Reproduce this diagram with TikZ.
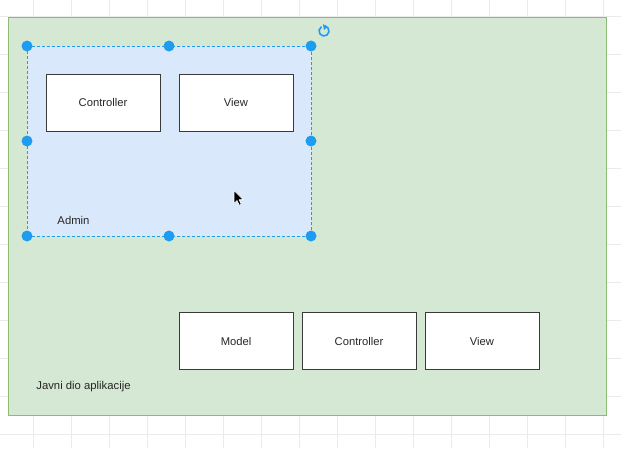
\documentclass[tikz,border=0pt]{standalone}
\usepackage{fontspec}
\setmainfont{Liberation Sans}
\usetikzlibrary{calc}
\definecolor{gridc}{HTML}{EBEBEB}
\definecolor{greenfill}{HTML}{D5E8D4}
\definecolor{greenline}{HTML}{8CBB74}
\definecolor{bluefill}{HTML}{DAE8FC}
\definecolor{selblue}{HTML}{1E9CF0}
\definecolor{boxline}{HTML}{3A3A3A}
\tikzset{
  container/.style={rectangle, inner sep=0pt, outer sep=0pt},
  box/.style={rectangle, draw=boxline, line width=0.9pt, fill=white, minimum width=114pt, minimum height=57pt, inner sep=0pt, font=\fontsize{11.2}{13}\selectfont, text=black!85},
  lbl/.style={font=\fontsize{11.3}{13}\selectfont, text=black!85, inner sep=0pt},
  handle/.style={circle, fill=selblue, minimum size=11pt, inner sep=0pt},
}
\begin{document}
\begin{tikzpicture}[x=1pt,y=1pt]
\useasboundingbox (0,0) rectangle (621,-448);
\fill[white] (0,0) rectangle (621,-448);
% grid
\foreach \gx in {-5,33,71,109,147,185,223,261,299,337,375,413,451,489,527,565,603}
  \draw[gridc, line width=0.6pt] (\gx,0) -- (\gx,-448);
\foreach \gy in {16,54,92,130,168,206,244,282,320,358,396,434}
  \draw[gridc, line width=0.6pt] (0,-\gy) -- (621,-\gy);
% green container
\node[container, fill=greenfill, draw=greenline, line width=0.9pt, minimum width=598pt, minimum height=398pt] (pub) at (307,-216) {};
% blue container
\node[container, fill=bluefill, minimum width=284pt, minimum height=190pt] (adm) at (169,-141) {};
\draw[selblue, dashed, dash pattern=on 3pt off 2pt, line width=0.8pt] (adm.north west) rectangle (adm.south east);
% boxes
\node[box] (c1) at (103,-102.5) {Controller};
\node[box] (v1) at (236,-102.5) {View};
\node[box] (m2) at (236,-341) {Model};
\node[box] (c2) at (359,-341) {Controller};
\node[box] (v2) at (482,-341) {View};
% labels
\node[lbl] (admlbl) at (73.5,-220) {Admin};
\node[lbl] (publbl) at (83.5,-387) {Javni dio aplikacije};
% handles
\foreach \a/\n in {north west/h1, north/h2, north east/h3, west/h4, east/h5, south west/h6, south/h7, south east/h8}
  \node[handle] (\n) at (adm.\a) {};
% rotate icon
\coordinate (rot) at (324,-31);
\draw[selblue, line width=1.6pt] ([shift={(80:5pt)}]rot) arc (80:-240:5pt);
\fill[selblue] ($(rot)+(-1,6.8)$) -- ++(4.5,-2.2) -- ++(-3.5,-3.8) -- cycle;
% cursor
\coordinate (cur) at (234,-190.5);
\filldraw[fill=black, draw=white, line width=0.6pt, line join=round]
  (cur) -- ++(0,-13) -- ++(3,3) -- ++(2.3,-4.8) -- ++(2,1) -- ++(-2.2,4.6) -- ++(4.2,0) -- cycle;
\end{tikzpicture}
\end{document}
